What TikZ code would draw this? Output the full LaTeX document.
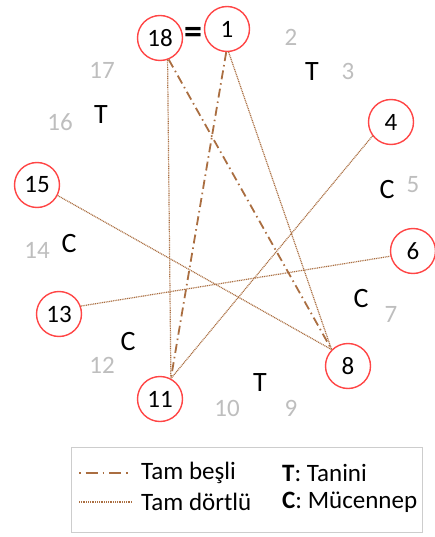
\documentclass[tikz,border=0pt]{standalone}
\usepackage{fontspec}
\setmainfont{Carlito}
\definecolor{ringred}{RGB}{255,70,70}
\definecolor{linebrown}{RGB}{170,110,65}
\definecolor{numgray}{RGB}{190,190,190}
\definecolor{boxgray}{RGB}{205,205,205}
\tikzset{
  ring/.style={circle,draw=ringred,line width=1.4pt,fill=white,minimum size=45pt,inner sep=0pt,font=\fontsize{25}{25}\selectfont},
  posnum/.style={text=numgray,inner sep=0pt,font=\fontsize{25}{25}\selectfont},
  letmark/.style={text=black,inner sep=0pt,font=\fontsize{28}{28}\selectfont},
  fifth/.style={draw=linebrown,line width=1.8pt,dash pattern=on 9pt off 4pt on 1.5pt off 4pt},
  fourth/.style={draw=linebrown,line width=1.2pt,dash pattern=on 1pt off 0.8pt},
  legtext/.style={anchor=west,inner sep=0pt,font=\fontsize{25}{25}\selectfont}
}
\begin{document}
\begin{tikzpicture}[x=1pt,y=-1pt]
\useasboundingbox (0,0) rectangle (435,537);
% circled positions
\node[ring] (n18) at (160,38) {18};
\node[ring] (n1) at (227,29) {1};
\node[ring] (n4) at (391,122) {4};
\node[ring] (n15) at (37,185) {15};
\node[ring] (n6) at (413,251) {6};
\node[ring] (n13) at (59,314) {13};
\node[ring] (n8) at (348,366) {8};
\node[ring] (n11) at (160,399) {11};
\node[inner sep=0pt,font=\fontsize{36}{36}\selectfont\bfseries] (eq) at (193,35) {=};
% gray positions
\node[posnum] (p2) at (291,37) {2};
\node[posnum] (p3) at (348,71) {3};
\node[posnum] (p17) at (102,70) {17};
\node[posnum] (p16) at (60,122) {16};
\node[posnum] (p5) at (413,185) {5};
\node[posnum] (p14) at (37,250) {14};
\node[posnum] (p7) at (391,314) {7};
\node[posnum] (p12) at (102,365) {12};
\node[posnum] (p10) at (227,408) {10};
\node[posnum] (p9) at (291,408) {9};
% letters
\node[letmark] (t1) at (312,72) {T};
\node[letmark] (t2) at (101,115) {T};
\node[letmark] (c1) at (387,190) {C};
\node[letmark] (c2) at (69,244) {C};
\node[letmark] (c3) at (361,299) {C};
\node[letmark] (c4) at (128,342) {C};
\node[letmark] (t3) at (260,383) {T};
% connectors
\draw[fourth] (n18.-71) -- (n11.62);
\draw[fourth] (n1.-86) -- (n8.135);
\draw[fourth] (n4.217) -- (n11.62);
\draw[fourth] (n15.-27) -- (n8.135);
\draw[fourth] (n13.20) -- (n6.193);
\draw[fifth] (n18.-68) -- (n8.135);
\draw[fifth] (n1.-92) -- (n11.62);
% legend
\node[draw=boxgray,line width=1pt,minimum width=351pt,minimum height=85pt,inner sep=0pt] (legend) at (246.5,489.5) {};
\coordinate (l1a) at (79,473);
\coordinate (l1b) at (132,473);
\coordinate (l2a) at (79,502);
\coordinate (l2b) at (132,502);
\draw[fifth,dash pattern=on 1.5pt off 5pt on 12pt off 5pt] (l1a) -- (l1b);
\draw[fourth] (l2a) -- (l2b);
\node[legtext] (lt1) at (141,473) {Tam beşli};
\node[legtext] (lt2) at (141,502) {Tam dörtlü};
\node[legtext] (lt3) at (282,473) {\textbf{T}: Tanini};
\node[legtext] (lt4) at (282,502) {\textbf{C}: Mücennep};
\end{tikzpicture}
\end{document}
